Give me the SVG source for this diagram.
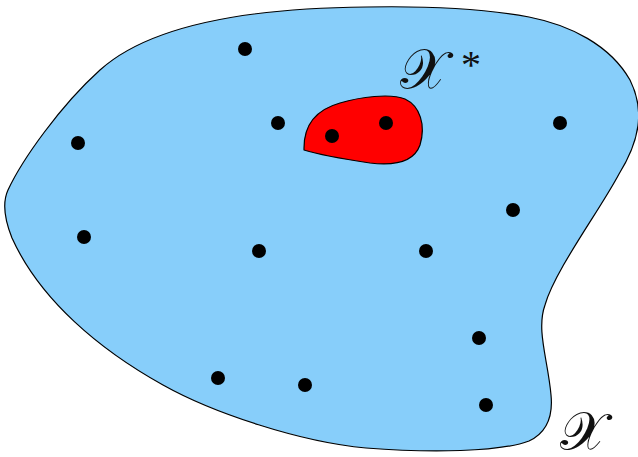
<svg xmlns="http://www.w3.org/2000/svg" width="638" height="457" viewBox="0 0 638 457">
<style>
.outline{stroke:#000;stroke-width:1.2;stroke-linejoin:round}
.dot{fill:#000}
.lbl{font-family:"DejaVu Serif","Noto Sans","DejaVu Sans",serif;fill:#111}
</style>
<rect width="638" height="457" fill="#fff"/>
<g id="region-X">
<path class="outline" fill="#87cefa" d="M 366,7 C 250,8 150,25 100,70 C 60,106 22,160 8,190 C 2,203 4,218 12,238 C 40,300 100,350 163,385 C 213,413 300,442 366,448 C 430,453 500,452 529,441 C 548,432 553,415 551,395 C 548,360 536,330 545,305 C 555,270 600,210 619,174 C 640,140 645,110 630,80 C 610,45 570,25 529,17 C 480,8 420,6 366,7 Z"/>
</g>
<g id="region-Xstar">
<path class="outline" fill="#ff0000" d="M 304,148 C 304,125 315,110 340,103 C 360,97 390,93 405,99 C 420,106 426,125 420,145 C 414,162 395,166 370,163 C 350,160 320,155 304,150 Z"/>
</g>
<g id="points">
<circle class="dot" cx="245" cy="49" r="7"/>
<circle class="dot" cx="278" cy="123" r="7"/>
<circle class="dot" cx="332" cy="136" r="7"/>
<circle class="dot" cx="386" cy="123" r="7"/>
<circle class="dot" cx="560" cy="123" r="7"/>
<circle class="dot" cx="78" cy="143" r="7"/>
<circle class="dot" cx="513" cy="210" r="7"/>
<circle class="dot" cx="84" cy="237" r="7"/>
<circle class="dot" cx="259" cy="251" r="7"/>
<circle class="dot" cx="426" cy="251" r="7"/>
<circle class="dot" cx="479" cy="338" r="7"/>
<circle class="dot" cx="218" cy="378" r="7"/>
<circle class="dot" cx="305" cy="385" r="7"/>
<circle class="dot" cx="486" cy="405" r="7"/>
</g>
<g id="labels">
<text class="lbl" x="400" y="88" font-size="55">𝒳</text>
<text x="461" y="78" font-family="Liberation Serif, serif" font-size="40" fill="#111">*</text>
<text class="lbl" x="560" y="450" font-size="54">𝒳</text>
</g>
</svg>
